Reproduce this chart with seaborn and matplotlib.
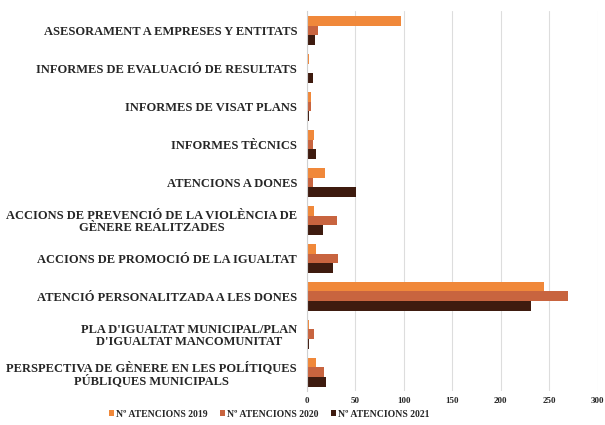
import seaborn as sns
import matplotlib.pyplot as plt
import pandas as pd

categories = [
    "ASESORAMENT A EMPRESES Y ENTITATS",
    "INFORMES DE EVALUACIÓ DE RESULTATS",
    "INFORMES DE VISAT PLANS",
    "INFORMES TÈCNICS",
    "ATENCIONS A DONES",
    "ACCIONS DE PREVENCIÓ DE LA VIOLÈNCIA DE\nGÈNERE REALITZADES",
    "ACCIONS DE PROMOCIÓ DE LA IGUALTAT",
    "ATENCIÓ PERSONALITZADA A LES DONES",
    "PLA D'IGUALTAT MUNICIPAL/PLAN\nD'IGUALTAT MANCOMUNITAT",
    "PERSPECTIVA DE GÈNERE EN LES POLÍTIQUES\nPÚBLIQUES MUNICIPALS",
]
series = ["Nº ATENCIONS 2019", "Nº ATENCIONS 2020", "Nº ATENCIONS 2021"]
vals_2019 = [97, 2, 4, 7, 19, 7, 10, 245, 2, 10]
vals_2020 = [12, 1, 4, 6, 6, 31, 32, 269, 8, 18]
vals_2021 = [9, 6, 2, 10, 51, 17, 27, 231, 2, 20]
colors = ["#F0883A", "#C8643F", "#3E1B0F"]

df = pd.DataFrame({
    "cat": categories * 3,
    "serie": [series[0]] * 10 + [series[1]] * 10 + [series[2]] * 10,
    "val": vals_2019 + vals_2020 + vals_2021,
})

sns.set_style("white")
plt.rcParams["font.family"] = ["Liberation Serif", "DejaVu Serif"]
plt.rcParams["font.weight"] = "bold"

fig, ax = plt.subplots(figsize=(6.05, 4.25), dpi=100)
fig.subplots_adjust(left=0.507, right=0.988, top=0.973, bottom=0.079)

sns.barplot(data=df, y="cat", x="val", hue="serie", palette=colors,
            orient="h", width=0.78, ax=ax, saturation=1, linewidth=0)

ax.set_xlim(0, 300)
ax.set_xticks(range(0, 301, 50))
ax.tick_params(axis="x", labelsize=6.5, length=0, pad=4)
ax.tick_params(axis="y", labelsize=9, length=0, pad=7)
for lbl in ax.get_yticklabels():
    lbl.set_horizontalalignment("right")
    lbl.set_multialignment("center")
    lbl.set_fontweight("bold")
    lbl.set_linespacing(1.05)
ax.set_xlabel("")
ax.set_ylabel("")
ax.grid(axis="x", color="#DDDDDD", linewidth=0.8)
ax.set_axisbelow(True)
for s in ["top", "right", "bottom"]:
    ax.spines[s].set_visible(False)
ax.spines["left"].set_color("#D0D0D0")
ax.spines["left"].set_linewidth(0.8)

ax.legend(loc="upper center", bbox_to_anchor=(0.445, 0.045), bbox_transform=fig.transFigure,
          ncol=3, frameon=False, fontsize=7, handlelength=0.6, handleheight=0.6,
          handletextpad=0.2, columnspacing=1.2, borderaxespad=0)

fig.savefig("out.png", dpi=100)
